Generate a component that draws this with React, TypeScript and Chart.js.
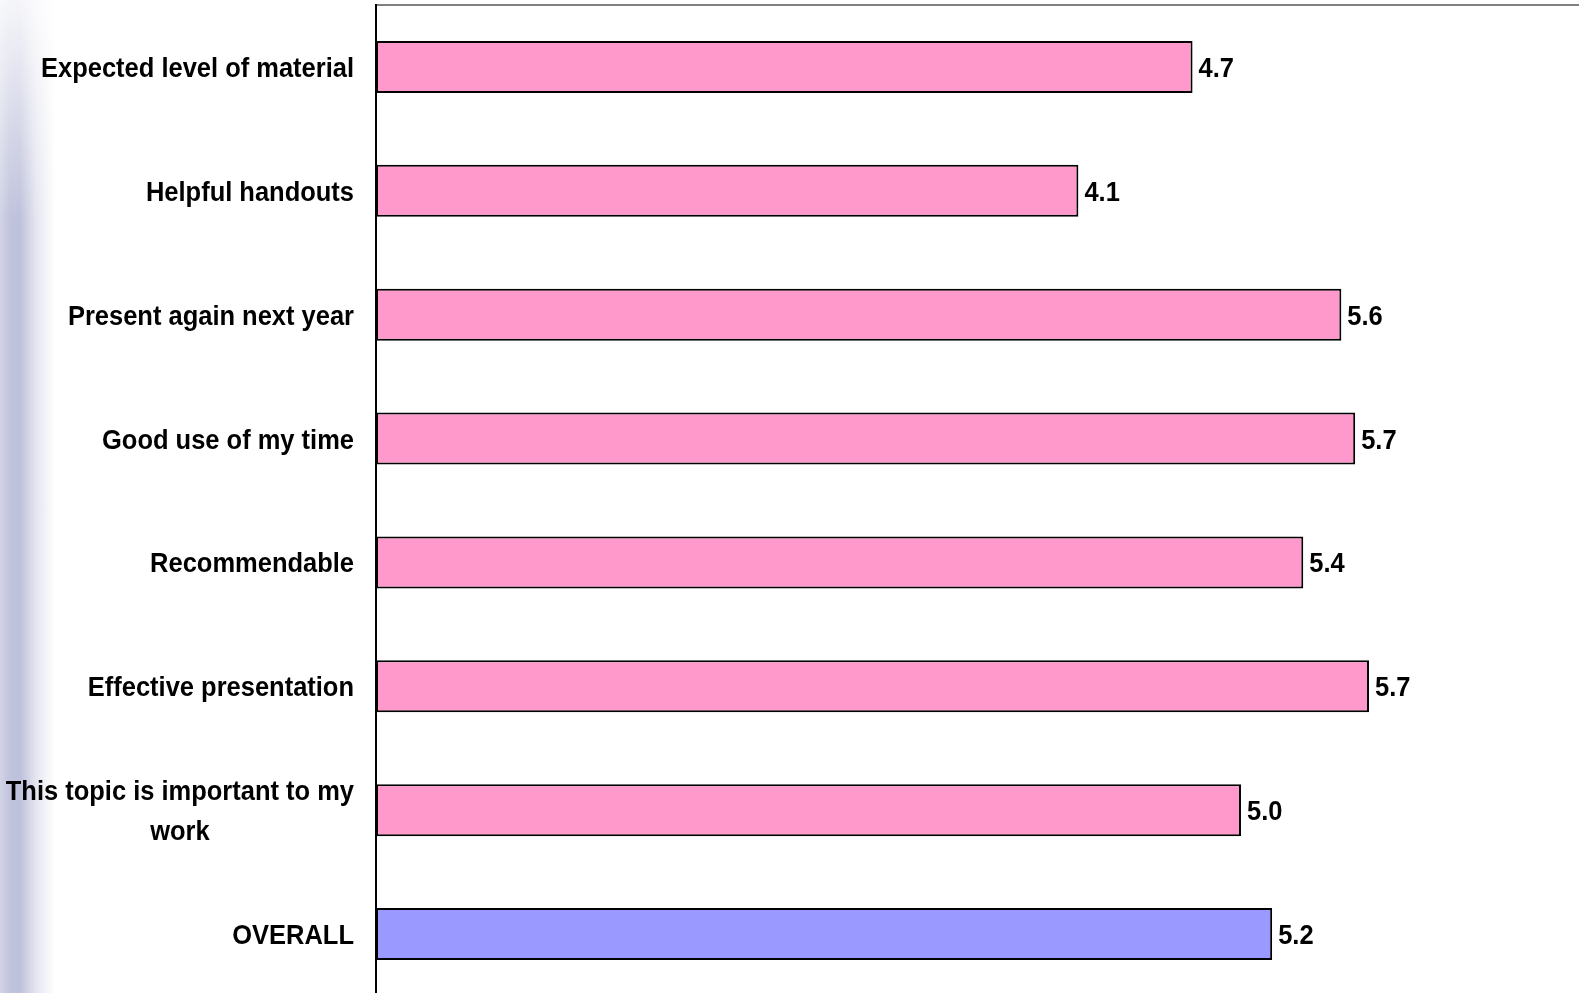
import React, { useEffect, useRef } from "react";
import { Chart, registerables } from "chart.js";

Chart.register(...registerables);

const categories: (string | string[])[] = [
  "Expected level of material",
  "Helpful handouts",
  "Present again next year",
  "Good use of my time",
  "Recommendable",
  "Effective presentation",
  ["This topic is important to my", "work"],
  "OVERALL",
];
const scores = [4.72, 4.06, 5.58, 5.66, 5.36, 5.74, 5.0, 5.18];
const barColors = [
  "#FF99CC",
  "#FF99CC",
  "#FF99CC",
  "#FF99CC",
  "#FF99CC",
  "#FF99CC",
  "#FF99CC",
  "#9999FF",
];
const axisMin = 0;
const axisMax = 7;

const FONT = '"Liberation Sans", Arial, sans-serif';
const NARROW = 0.91;

function narrowText(
  ctx: CanvasRenderingContext2D,
  text: string,
  x: number,
  y: number,
  align: "left" | "right" | "center"
) {
  const w = ctx.measureText(text).width * NARROW;
  let left = x;
  if (align === "right") left = x - w;
  else if (align === "center") left = x - w / 2;
  ctx.save();
  ctx.translate(left, y);
  ctx.scale(NARROW, 1);
  ctx.textAlign = "left";
  ctx.fillText(text, 0, 0);
  ctx.restore();
}

const labelPlugin = {
  id: "customLabels",
  afterDatasetsDraw(chart: any) {
    const ctx = chart.ctx as CanvasRenderingContext2D;
    const meta = chart.getDatasetMeta(0);
    const yScale = chart.scales.y;
    ctx.save();
    ctx.font = `bold 28px ${FONT}`;
    ctx.fillStyle = "#000000";
    ctx.textBaseline = "alphabetic";
    const capHalf = 10;
    meta.data.forEach((el: any, i: number) => {
      const p = el.getProps(["x", "y"], true);
      narrowText(ctx, scores[i].toFixed(1), p.x + 6, p.y + capHalf, "left");
    });
    const right = chart.chartArea.left - 22;
    categories.forEach((c, i) => {
      const y = yScale.getPixelForValue(i);
      const lines = Array.isArray(c) ? c : [c];
      if (lines.length === 1) {
        narrowText(ctx, lines[0], right, y + capHalf, "right");
      } else {
        const w = Math.max(...lines.map((l) => ctx.measureText(l).width * NARROW));
        const cx = right - w / 2;
        const lh = 40;
        lines.forEach((l, k) => {
          narrowText(ctx, l, cx, y + capHalf + (k - (lines.length - 1) / 2) * lh, "center");
        });
      }
    });
    ctx.restore();
  },
};

export default function App() {
  const ref = useRef<HTMLCanvasElement | null>(null);
  useEffect(() => {
    if (!ref.current) return;
    const chart = new Chart(ref.current, {
      type: "bar",
      data: {
        labels: categories as any,
        datasets: [
          {
            data: scores,
            backgroundColor: barColors,
            borderColor: "#000000",
            borderWidth: 2,
            borderSkipped: false,
            barPercentage: 0.42,
            categoryPercentage: 1,
          },
        ],
      },
      options: {
        indexAxis: "y",
        animation: false,
        responsive: false,
        devicePixelRatio: 1,
        layout: { padding: { left: 376, top: 5, right: 13, bottom: 4 } },
        plugins: {
          legend: { display: false },
          tooltip: { enabled: false },
        },
        scales: {
          x: {
            position: "top",
            min: axisMin,
            max: axisMax,
            ticks: { display: false },
            grid: { display: false, drawTicks: false },
            border: { display: true, color: "#808080", width: 2 },
          },
          y: {
            ticks: { display: false },
            grid: { display: false, drawTicks: false },
            border: { display: true, color: "#000000", width: 2 },
          },
        },
      },
      plugins: [labelPlugin],
    });
    return () => chart.destroy();
  }, []);

  return (
    <div
      style={{
        position: "fixed",
        left: 0,
        top: 0,
        width: 1579,
        height: 993,
        overflow: "hidden",
        background:
          "linear-gradient(to bottom, rgba(255,255,255,0.85) 0px, rgba(255,255,255,0) 220px), linear-gradient(to right, #d2d4e5 0px, #c0c3dc 10px, #bec1db 20px, #e4e5f0 36px, #ffffff 55px)",
      }}
    >
      <canvas ref={ref} width={1600} height={1000} style={{ display: "block" }} />
    </div>
  );
}
